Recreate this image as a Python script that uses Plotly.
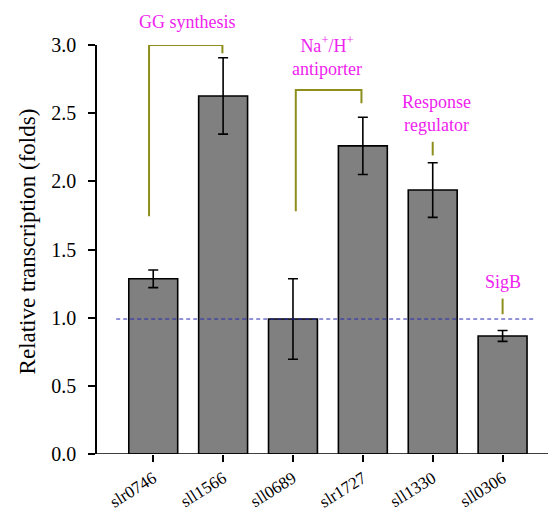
import plotly.graph_objects as go

# ---- data ----
genes = ["slr0746", "sll1566", "sll0689", "slr1727", "sll1330", "sll0306"]
values = [1.285, 2.626, 0.99, 2.26, 1.936, 0.866]
errors = [0.065, 0.28, 0.295, 0.21, 0.2, 0.04]
y_ticks = [0.0, 0.5, 1.0, 1.5, 2.0, 2.5, 3.0]
y_ticklabels = ["0.0", "0.5", "1.0", "1.5", "2.0", "2.5", "3.0"]
reference_level = 0.99
y_max = 3.0

# group labels: (text, x-center in category index, y value)
group_texts = ["GG synthesis", "Na<sup>+</sup>/H<sup>+</sup><br>antiporter",
               "Response<br>regulator", "SigB"]
group_text_x = [0.49, 2.48, 4.06, 5.0]
group_text_y = [3.17, 2.92, 2.50, 1.26]

# bracket paths (category index, value)
bracket_paths = [
    [(-0.06, 1.743), (-0.06, 3.0), (0.99, 3.0), (0.99, 2.94)],
    [(2.04, 1.78), (2.04, 2.67), (2.98, 2.67), (2.98, 2.573)],
    [(4.0, 2.29), (4.0, 2.19)],
    [(5.0, 1.14), (5.0, 1.025)],
]

FONT = "Times New Roman"
OLIVE = "#8E8E1C"
MAGENTA = "#EE22EE"

fig = go.Figure()
fig.add_trace(go.Bar(
    x=genes, y=values,
    marker=dict(color="#808080", line=dict(color="black", width=1.6)),
    error_y=dict(type="data", array=errors, visible=True,
                 color="black", thickness=1.6, width=5),
    showlegend=False,
))

shapes = []
for path in bracket_paths:
    d = "M " + " L ".join(f"{x},{y}" for x, y in path)
    shapes.append(dict(type="path", path=d, xref="x", yref="y",
                       line=dict(color=OLIVE, width=2)))
# reference dashed line
shapes.append(dict(type="line", xref="x", yref="y", x0=-0.53, x1=5.475,
                   y0=reference_level, y1=reference_level,
                   line=dict(color="#2828B4", width=1, dash="4px,3px")))
# x axis line extended a bit left of the y axis
shapes.append(dict(type="line", xref="paper", yref="y", x0=-0.02, x1=1.0,
                   y0=0, y1=0, line=dict(color="black", width=1.6)))

annotations = []
for t, x, y in zip(group_texts, group_text_x, group_text_y):
    annotations.append(dict(text=t, x=x, y=y / y_max, xref="x", yref="paper",
                            showarrow=False, xanchor="center", yanchor="middle",
                            font=dict(family=FONT, size=18, color=MAGENTA)))
annotations.append(dict(text="Relative transcription (folds)", textangle=-90,
                        xref="paper", yref="paper", x=-0.155, y=0.52,
                        showarrow=False, xanchor="center", yanchor="middle",
                        font=dict(family=FONT, size=23, color="black")))

fig.update_layout(
    width=550, height=510,
    margin=dict(l=97, r=2, t=45, b=56),
    paper_bgcolor="white", plot_bgcolor="white",
    bargap=0.3,
    shapes=shapes, annotations=annotations,
)
fig.update_xaxes(
    range=[-0.805, 5.65], showline=False, showgrid=False, zeroline=False,
    automargin=False,
    ticks="outside", ticklen=7, tickwidth=1.6, tickcolor="black",
    tickangle=-32, ticklabelstandoff=0,
    tickfont=dict(family=FONT, size=17, color="black"),
)
fig.update_yaxes(
    range=[0, y_max], tickvals=y_ticks, ticktext=y_ticklabels,
    showline=True, linecolor="black", linewidth=1.6,
    showgrid=False, zeroline=False, automargin=False,
    ticks="outside", ticklen=7, tickwidth=1.6, tickcolor="black",
    ticklabelstandoff=8,
    tickfont=dict(family=FONT, size=20, color="black"),
)

fig.write_html("out.html", config={"displayModeBar": False},
               post_script="document.body.style.margin='0px';document.body.style.padding='0px';")
